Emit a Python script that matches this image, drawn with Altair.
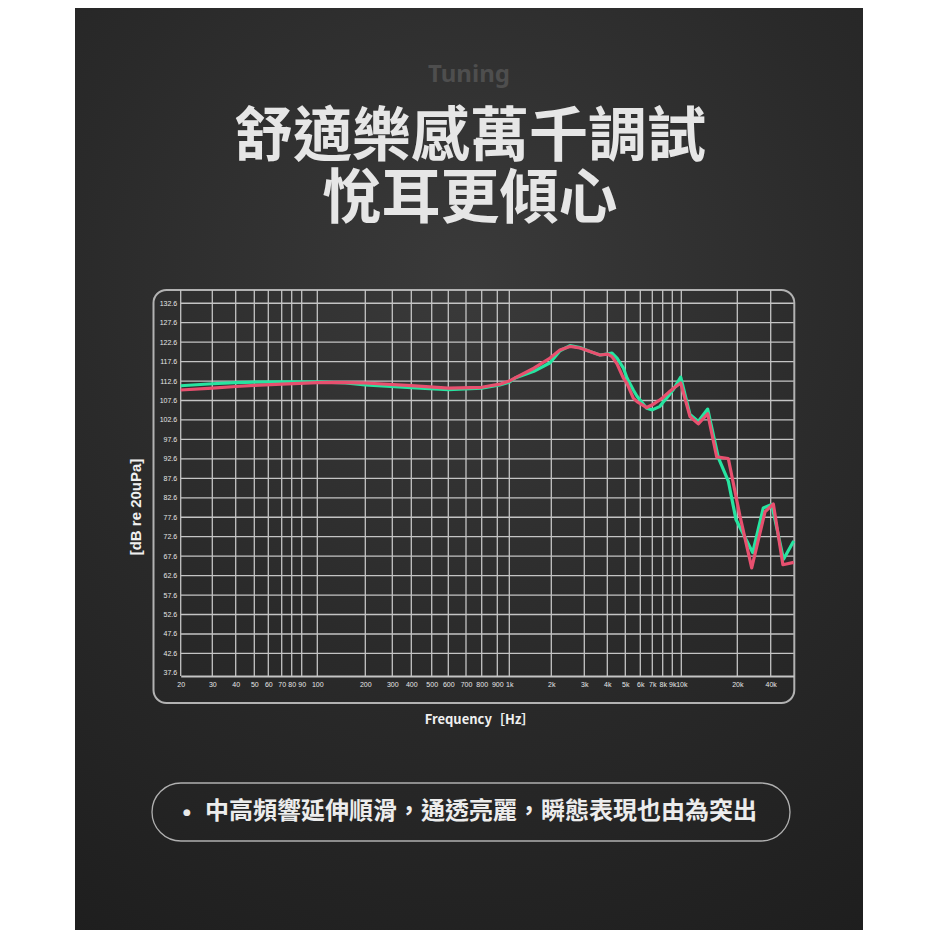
import altair as alt
import pandas as pd

# ---------------- data ----------------
green_freq = [20, 30, 40, 50, 70, 100, 150, 200, 400, 600, 800, 920, 1000, 1100, 1500, 1960,
              2225, 2517, 2846, 3222, 3651, 4035, 4240, 4511, 4877, 5104, 5510, 5764, 6514,
              7000, 7727, 8000, 8750, 9106, 9930, 11137, 12341, 13864, 15810, 17890, 19680,
              27530, 34300, 40840, 51980, 64000]
green_db = [111.4, 111.9, 112.2, 112.3, 112.4, 112.4, 112.1, 111.6, 110.9, 110.4, 110.8, 111.6,
            112.3, 113.4, 115.1, 117.3, 120.4, 121.7, 121.2, 120.2, 119.3, 119.6, 119.8, 118.5,
            116.0, 113.4, 110.3, 108.7, 105.6, 105.2, 106.1, 107.0, 109.3, 110.4, 113.6, 104.0,
            102.2, 105.4, 92.9, 86.9, 77.0, 68.5, 80.0, 80.9, 66.8, 71.5]

pink_freq = [20, 30, 40, 50, 70, 100, 150, 200, 400, 600, 800, 920, 1000, 1100, 1500, 1960,
             2225, 2517, 2846, 3222, 3651, 4035, 4240, 4511, 4877, 5104, 5510, 5764, 6514,
             7000, 7727, 8000, 8750, 9106, 9930, 11137, 12341, 13864, 15500, 17890, 21150,
             26970, 35540, 42220, 51340, 64000]
pink_db = [110.3, 110.8, 111.2, 111.5, 111.8, 112.2, 112.2, 112.1, 111.4, 110.8, 111.0, 111.8,
           112.6, 113.4, 115.9, 118.5, 120.6, 121.5, 121.1, 120.2, 119.3, 119.5, 118.9, 117.0,
           113.4, 112.0, 108.2, 107.3, 105.8, 106.5, 107.8, 108.3, 110.0, 110.7, 112.1, 103.5,
           101.6, 104.2, 93.1, 92.7, 77.9, 64.6, 79.0, 81.0, 65.4, 66.0]

x_ticks = [20, 30, 40, 50, 60, 70, 80, 90, 100, 200, 300, 400, 500, 600, 700, 800, 900,
           1000, 2000, 3000, 4000, 5000, 6000, 7000, 8000, 9000, 10000, 20000, 40000]
y_ticks = [37.6, 42.6, 47.6, 52.6, 57.6, 62.6, 67.6, 72.6, 77.6, 82.6, 87.6, 92.6, 97.6,
           102.6, 107.6, 112.6, 117.6, 122.6, 127.6, 132.6]

tagline = "Tuning"
title_lines = ["舒適樂感萬千調試", "悅耳更傾心"]
x_title = "Frequency［Hz］"
y_title = "[dB re 20uPa]"
note_text = "中高頻響延伸順滑，通透亮麗，瞬態表現也由為突出"

# ---------------- layout / style ----------------
W, H = 613, 386
x_knots = x_ticks + [64000]
x_knot_px = [0, 31.6, 55.0, 73.6, 87.6, 101.0, 111.0, 121.0, 136.6, 184.6, 211.6, 230.6,
             251.0, 267.6, 285.3, 301.0, 316.6, 328.6, 370.6, 403.6, 426.6, 444.6, 459.6,
             471.6, 482.0, 491.6, 500.6, 556.6, 590.0, 613]
GREEN = "#27e4a0"
PINK = "#e8506f"
GRID = "#c4c4c4"
LABEL = "#e6e6e6"

xscale = alt.Scale(type="log", domain=x_knots, range=x_knot_px, nice=False)
yscale = alt.Scale(domain=[36.8, 136], nice=False, zero=False)

xaxis = alt.Axis(values=x_ticks, title=None, grid=False, ticks=False, domain=True,
                 domainColor=GRID, domainWidth=2, labelColor=LABEL, labelFontSize=7,
                 labelFont="Liberation Sans", labelPadding=4, labelOverlap=False,
                 labelFlush=False, zindex=1,
                 labelExpr="datum.value >= 1000 ? (datum.value / 1000) + 'k' : datum.value")
yaxis = alt.Axis(values=y_ticks, title=None, grid=False, ticks=False, domain=False,
                 labelColor=LABEL, labelFontSize=7, labelFont="Liberation Sans",
                 labelPadding=4, format=".1f", labelOverlap=False, labelFlush=False, zindex=1)

X = lambda f: alt.X(f, type="quantitative", scale=xscale, axis=xaxis)
Y = lambda f: alt.Y(f, type="quantitative", scale=yscale, axis=yaxis)

one = pd.DataFrame({"k": [0]})

panel = alt.Chart(one).mark_rect(
    fill=alt.RadialGradient(
        gradient="radial", x1=0.5, y1=0.3, r1=0, x2=0.5, y2=0.3, r2=0.85,
        stops=[alt.GradientStop(color="#3a3a3a", offset=0),
               alt.GradientStop(color="#2a2a2a", offset=0.5),
               alt.GradientStop(color="#1d1d1d", offset=1)])
).encode(x=alt.value(-105.7), x2=alt.value(682.3), y=alt.value(-290), y2=alt.value(648))

frame = alt.Chart(one).mark_rect(fill="transparent", stroke="#b2b2b2", strokeWidth=2,
                                 cornerRadius=13).encode(
    x=alt.value(-27.2), x2=alt.value(613.6), y=alt.value(0), y2=alt.value(413))

pill = alt.Chart(one).mark_rect(fill="transparent", stroke="#b0b0b0", strokeWidth=1.3,
                                cornerRadius=29).encode(
    x=alt.value(-28.7), x2=alt.value(609.3), y=alt.value(493), y2=alt.value(551))

xgrid = alt.Chart(pd.DataFrame({"freq": x_ticks})).mark_rule(
    color=GRID, strokeWidth=1.3).encode(x=X("freq"))
ygrid = alt.Chart(pd.DataFrame({"db": y_ticks})).transform_filter(
    "datum.db > 40").mark_rule(color=GRID, strokeWidth=1.3).encode(y=Y("db"))

green_line = alt.Chart(pd.DataFrame({"freq": green_freq, "db": green_db})).mark_line(
    color=GREEN, strokeWidth=3.2, strokeJoin="round").encode(x=X("freq"), y=Y("db"))
pink_line = alt.Chart(pd.DataFrame({"freq": pink_freq, "db": pink_db})).mark_line(
    color=PINK, strokeWidth=3.2, strokeJoin="round").encode(x=X("freq"), y=Y("db"))


def text(s, x, y, **kw):
    return alt.Chart(pd.DataFrame({"t": [s]})).mark_text(**kw).encode(
        text="t:N", x=alt.value(x), y=alt.value(y))


cjk = "Noto Sans CJK TC"
texts = [
    text(tagline, 288.3, -215, font="Noto Sans", fontSize=24, fontWeight="bold",
         color="#4e4e4e", baseline="middle"),
    text("\n".join(title_lines), 289.3, -134, font=cjk, fontSize=59, fontWeight="bold",
         color="#e6e6e6", baseline="alphabetic", lineBreak="\n", lineHeight=62),
    text(y_title, -44.7, 217, font="Liberation Sans", fontSize=15, fontWeight="bold",
         color="#f0f0f0", angle=270, baseline="middle"),
    text(x_title, 298.8, 430, font=cjk, fontSize=13, fontWeight="bold",
         color="#f0f0f0", baseline="middle"),
    text("●", 6.3, 522, font="DejaVu Sans", fontSize=9, color="#e8e8e8", baseline="middle"),
    text(note_text, 24.3, 522, font=cjk, fontSize=24, fontWeight="bold",
         color="#ececec", align="left", baseline="middle"),
]

chart = alt.layer(panel, frame, pill, xgrid, ygrid, green_line, pink_line, *texts).properties(
    width=W, height=H,
    padding={"left": 172.7, "top": 282, "right": 136.3, "bottom": 254},
    autosize=alt.AutoSizeParams(type="none"),
).configure(background="white").configure_view(stroke=None)

chart.save("out.html", embed_options={"renderer": "svg", "actions": False})
